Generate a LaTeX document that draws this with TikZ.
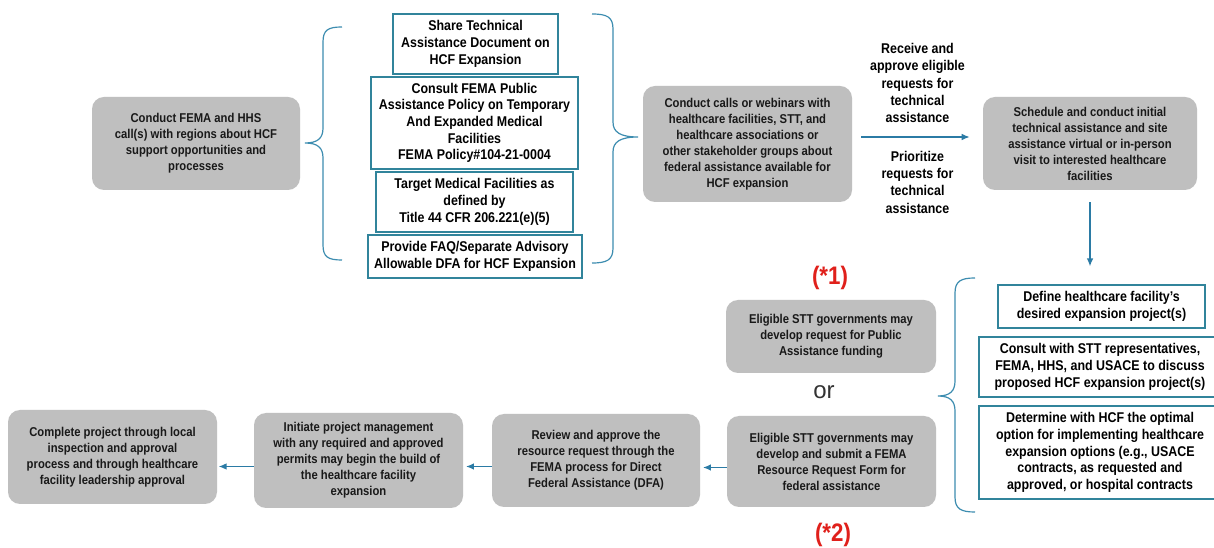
\documentclass[tikz,border=0pt]{standalone}
\usepackage{fontspec}
\setmainfont{Liberation Sans}
\newfontfamily\narrowfont{Liberation Sans}[FakeStretch=0.88]
\usetikzlibrary{arrows.meta,positioning}
\definecolor{boxgrey}{HTML}{BFBFBF}
\definecolor{tealline}{HTML}{31849B}
\definecolor{bracecol}{HTML}{3D8DB0}
\definecolor{arrowcol}{HTML}{2B7BA5}
\definecolor{notered}{HTML}{E0201B}

\begin{document}
\begin{tikzpicture}[x=0.75pt, y=-0.75pt,
        wh/.style 2 args={minimum width=#1*0.75pt, minimum height=#2*0.75pt},
        greybox/.style={fill=boxgrey, rounded corners=9pt, align=center, inner sep=0pt, text=black!90,
            font=\narrowfont\fontsize{9.6}{12}\selectfont\bfseries},
        tealbox/.style={draw=tealline, line width=0.9pt, fill=white, align=center, inner sep=0pt,
            font=\narrowfont\fontsize{10.6}{12.5}\selectfont\bfseries},
        brace/.style={draw=bracecol, line width=0.9pt},
        flow/.style={draw=arrowcol, line width=1.1pt, -{Latex[length=6pt,width=5pt]}},
        lbl/.style={align=center, inner sep=0pt, font=\narrowfont\fontsize{10.6}{13}\selectfont\bfseries},
        starnote/.style={text=notered, inner sep=0pt, font=\narrowfont\fontsize{19}{19}\selectfont\bfseries}]
        \fill[white] (0,0) rectangle (1214,548);
        \useasboundingbox (0,0) rectangle (1214,548);

        \node[greybox, wh={208}{93}] (fema) at (196,143.5) {Conduct FEMA and HHS\\call(s) with regions about HCF\\support opportunities and\\processes};

        \node[tealbox, wh={165}{60}] (share) at (475.5,44) {Share Technical\\Assistance Document on\\HCF Expansion};
        \node[tealbox, wh={207}{92}] (policy) at (474.5,123) {Consult FEMA Public\\Assistance Policy on Temporary\\And Expanded Medical\\Facilities\\FEMA Policy\#104-21-0004};
        \node[tealbox, wh={197}{60}] (target) at (474.5,202) {Target Medical Facilities as\\defined by\\Title 44 CFR 206.221(e)(5)};
        \node[tealbox, wh={214}{43}] (faq) at (475,256.5) {Provide FAQ/Separate Advisory\\Allowable DFA for HCF Expansion};

        \node[greybox, wh={209}{116}] (calls) at (747.5,144) {Conduct calls or webinars with\\healthcare facilities, STT, and\\healthcare associations or\\other stakeholder groups about\\federal assistance available for\\HCF expansion};
        \node[greybox, wh={214}{93}] (visit) at (1090,143.5) {Schedule and conduct initial\\technical assistance and site\\assistance virtual or in-person\\visit to interested healthcare\\facilities};

        \node[tealbox, wh={207}{43}] (define) at (1101.5,306.5) {Define healthcare facility’s\\desired expansion project(s)};
        \node[tealbox, wh={242}{60}] (consult) at (1100,367) {Consult with STT representatives,\\FEMA, HHS, and USACE to discuss\\proposed HCF expansion project(s)};
        \node[tealbox, wh={242}{93}] (determine) at (1100,452.5) {Determine with HCF the optimal\\option for implementing healthcare\\expansion options (e.g., USACE\\contracts, as requested and\\approved, or hospital contracts};

        \node[greybox, wh={210}{73}] (pa) at (831,336.5) {Eligible STT governments may\\develop request for Public\\Assistance funding};
        \node[greybox, wh={209}{91}] (rrf) at (831.5,461.5) {Eligible STT governments may\\develop and submit a FEMA\\Resource Request Form for\\federal assistance};
        \node[starnote] (star1) at (830,278) {(*1)};
        \node[starnote] (star2) at (833,535) {(*2)};
        \node[inner sep=0pt, text=black!80, font=\fontsize{18}{18}\selectfont] (or) at (824,392) {or};

        \node[greybox, wh={208}{93}] (review) at (596,460.5) {Review and approve the\\resource request through the\\FEMA process for Direct\\Federal Assistance (DFA)};
        \node[greybox, wh={209}{95}] (initiate) at (358.5,460.5) {Initiate project management\\with any required and approved\\permits may begin the build of\\the healthcare facility\\expansion};
        \node[greybox, wh={209}{94}] (complete) at (112.5,457) {Complete project through local\\inspection and approval\\process and through healthcare\\facility leadership approval};

        \draw[brace] (342,27) .. controls (328,27) and (323,30) .. (323,42) -- (323,128)
            .. controls (323,138) and (318,143) .. (305,143) .. controls (318,143) and (323,148) .. (323,158)
            -- (323,245) .. controls (323,257) and (328,260) .. (342,260);
        \draw[brace] (592,14) .. controls (607,14) and (613,17) .. (613,29) -- (613,122)
            .. controls (613,132) and (620,137) .. (638,137) .. controls (620,137) and (613,142) .. (613,152)
            -- (613,248) .. controls (613,260) and (607,263) .. (592,263);
        \draw[brace] (975,278) .. controls (961,278) and (955,281) .. (955,293) -- (955,381)
            .. controls (955,391) and (950,396) .. (938,396) .. controls (950,396) and (955,401) .. (955,411)
            -- (955,497) .. controls (955,509) and (961,512) .. (975,512);

        \draw[flow, shorten <=6.75pt, shorten >=9.75pt] ([yshift=5.25pt]calls.east) --
            node[lbl, above=10pt] (recv) {Receive and\\approve eligible\\requests for\\technical\\assistance}
            node[lbl, below=10pt] (prio) {Prioritize\\requests for\\technical\\assistance}
            ([yshift=5.25pt]calls.east -| visit.west);
        \draw[flow, shorten <=9pt, shorten >=13.5pt] (visit.south) -- (visit.south |- define.north);
        \draw[flow, shorten >=2pt] ([yshift=-4.5pt]rrf.west) -- ([yshift=-4.5pt]rrf.west -| review.east);
        \draw[flow, shorten >=2pt] ([yshift=-4.5pt]review.west) -- ([yshift=-4.5pt]review.west -| initiate.east);
        \draw[flow, shorten >=1pt] ([yshift=-4.5pt]initiate.west) -- ([yshift=-4.5pt]initiate.west -| complete.east);
    \end{tikzpicture}
\end{document}
